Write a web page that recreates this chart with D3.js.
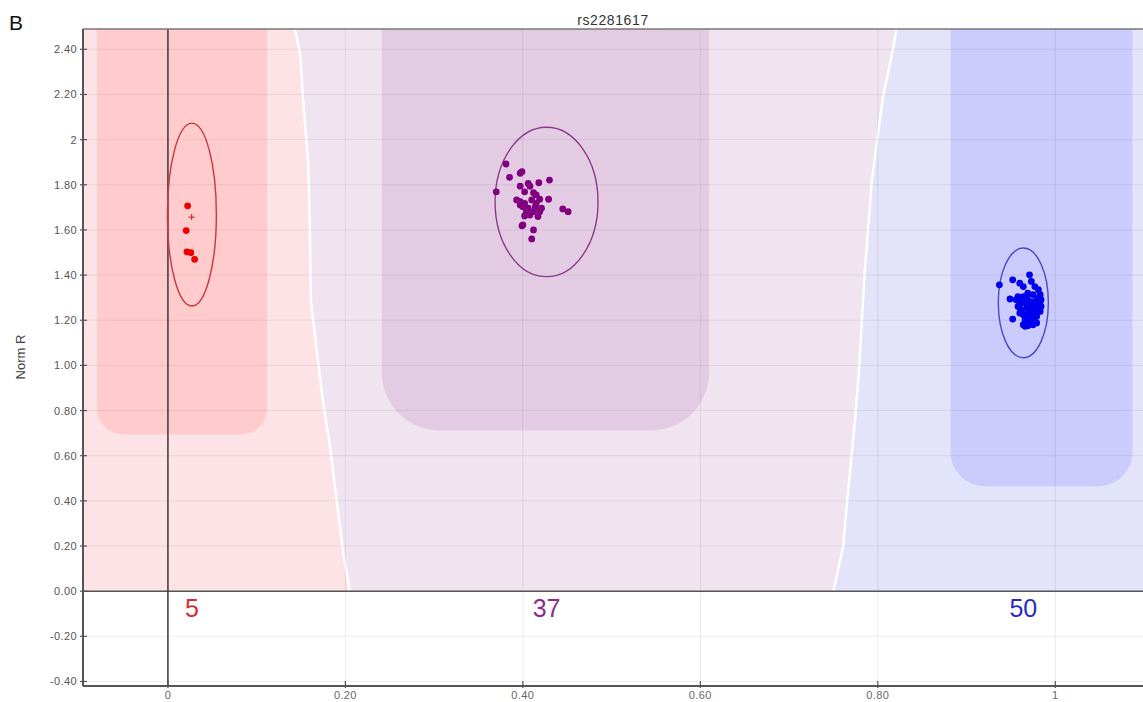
<!DOCTYPE html>
<html>
<head>
<meta charset="utf-8">
<script src="https://cdn.jsdelivr.net/npm/d3@7"></script>
<style>
  body { margin: 0; background: #fff; }
  svg { display: block; font-family: "Liberation Sans", Arial, sans-serif; }
</style>
</head>
<body>
<div id="chart"></div>
<script>
// genotype cluster plot
const title = "rs2281617";
const yTicks = [2.4, 2.2, 2, 1.8, 1.6, 1.4, 1.2, 1.0, 0.8, 0.6, 0.4, 0.2, 0, -0.2, -0.4];
const yTickLabels = ["2.40", "2.20", "2", "1.80", "1.60", "1.40", "1.20", "1.00", "0.80", "0.60", "0.40", "0.20", "0.00", "-0.20", "-0.40"];
const xTicks = [0, 0.2, 0.4, 0.6, 0.8, 1];
const xTickLabels = ["0", "0.20", "0.40", "0.60", "0.80", "1"];

const clusterNames = ["AA", "AB", "BB"];
const clusterCounts = [5, 37, 50];

// zone boundaries (x, normR), top to bottom
const boundaryAB = [[0.143, 2.49], [0.149, 2.382], [0.152, 2.188], [0.158, 1.909], [0.160, 1.60],
  [0.161, 1.291], [0.168, 1.056], [0.174, 0.862], [0.183, 0.628], [0.190, 0.407], [0.197, 0.186], [0.205, 0]];
const boundaryBB = [[0.821, 2.49], [0.817, 2.396], [0.806, 2.192], [0.799, 1.989], [0.793, 1.803],
  [0.789, 1.600], [0.785, 1.397], [0.782, 1.193], [0.779, 0.990], [0.775, 0.787], [0.770, 0.583],
  [0.765, 0.380], [0.761, 0.199], [0.750, 0]];

// cluster boxes: [x0, x1, bottom]
const clusterBoxes = [[-0.080, 0.112, 0.695], [0.241, 0.610, 0.712], [0.882, 1.087, 0.465]];
// cluster ellipses: [cx, cy, rx, ry]
const clusterEllipses = [[0.027, 1.668, 0.0276, 0.405], [0.4267, 1.724, 0.058, 0.331], [0.964, 1.277, 0.0282, 0.243]];
const aaMean = [0.0267, 1.657];

const aaPoints = [[0.0222, 1.707], [0.0206, 1.597], [0.0214, 1.503], [0.0259, 1.499], [0.0301, 1.470]];
const abPoints = [[0.381, 1.892], [0.385, 1.833], [0.397, 1.851], [0.399, 1.858], [0.370, 1.769],
  [0.397, 1.794], [0.406, 1.806], [0.408, 1.794], [0.418, 1.809], [0.430, 1.821], [0.402, 1.769],
  [0.412, 1.765], [0.415, 1.755], [0.393, 1.733], [0.397, 1.725], [0.402, 1.718], [0.410, 1.733],
  [0.419, 1.736], [0.429, 1.736], [0.400, 1.703], [0.406, 1.696], [0.414, 1.703], [0.421, 1.696],
  [0.404, 1.681], [0.412, 1.681], [0.419, 1.681], [0.402, 1.662], [0.408, 1.666], [0.417, 1.659],
  [0.400, 1.622], [0.399, 1.618], [0.412, 1.600], [0.410, 1.560], [0.445, 1.693], [0.451, 1.681],
  [0.397, 1.711], [0.415, 1.718]];
const bbPoints = [[0.937, 1.357], [0.952, 1.379], [0.971, 1.401], [0.973, 1.372], [0.960, 1.364],
  [0.964, 1.349], [0.977, 1.349], [0.981, 1.335], [0.949, 1.294], [0.956, 1.291], [0.964, 1.305],
  [0.969, 1.320], [0.975, 1.313], [0.983, 1.313], [0.984, 1.291], [0.960, 1.268], [0.966, 1.276],
  [0.971, 1.283], [0.977, 1.283], [0.981, 1.268], [0.984, 1.261], [0.962, 1.246], [0.968, 1.254],
  [0.973, 1.261], [0.979, 1.246], [0.983, 1.239], [0.952, 1.205], [0.964, 1.224], [0.969, 1.232],
  [0.975, 1.224], [0.979, 1.217], [0.966, 1.202], [0.971, 1.195], [0.975, 1.202], [0.964, 1.180],
  [0.969, 1.176], [0.979, 1.188], [0.958, 1.305], [0.968, 1.298], [0.962, 1.283], [0.973, 1.239],
  [0.977, 1.261], [0.981, 1.298], [0.971, 1.217], [0.968, 1.214], [0.960, 1.232], [0.966, 1.173],
  [0.983, 1.283], [0.975, 1.180], [0.958, 1.261]];

const width = 1143, height = 702;
const xMin = -0.0957, xMax = 1.1, yMin = -0.42, yMax = 2.49;
const zoneColors = ["#fde3e5", "#f0e4f0", "#e3e3fa"];
const boxColors = ["#ffcbcc", "#e3cce3", "#cbcbfd"];
const ellipseColors = ["#c8383c", "#8a3a8a", "#4848cc"];
const pointColors = ["#ee0000", "#800080", "#0000ee"];
const countColors = ["#d92a32", "#8b2c8b", "#2b2bc8"];
const cornerRadius = [26, 58, 34];

const svg = d3.select("#chart").append("svg")
  .attr("width", width)
  .attr("height", height);

const x = d3.scaleLinear().domain([xMin, xMax]).range([83, 1144]);
const y = d3.scaleLinear().domain([yMin, yMax]).range([686, 29]);

svg.append("clipPath").attr("id", "plot-clip")
  .append("rect")
  .attr("x", x(xMin)).attr("y", y(yMax))
  .attr("width", x(xMax) - x(xMin)).attr("height", y(yMin) - y(yMax));

const plot = svg.append("g").attr("clip-path", "url(#plot-clip)");
const line = d3.line().x(d => x(d[0])).y(d => y(d[1]));

// background zones (only above 0)
const zonePolys = [
  [[xMin, yMax]].concat(boundaryAB, [[xMin, 0]]),
  boundaryAB.concat(boundaryBB.slice().reverse()),
  [[xMax, yMax]].concat(boundaryBB, [[xMax, 0]])
];
zonePolys.forEach((poly, i) => {
  plot.append("path")
    .attr("d", line(poly) + "Z")
    .attr("fill", zoneColors[i]);
});

// cluster boxes with rounded bottom corners
clusterBoxes.forEach((b, i) => {
  const x0 = x(b[0]), x1 = x(b[1]), yb = y(b[2]), top = y(yMax) - 2, r = cornerRadius[i];
  plot.append("path")
    .attr("d", `M${x0},${top}L${x0},${yb - r}A${r},${r} 0 0 0 ${x0 + r},${yb}` +
      `L${x1 - r},${yb}A${r},${r} 0 0 0 ${x1},${yb - r}L${x1},${top}Z`)
    .attr("fill", boxColors[i]);
});

// white zone separators
[boundaryAB, boundaryBB].forEach(bd => {
  plot.append("path")
    .attr("d", line(bd))
    .attr("fill", "none")
    .attr("stroke", "#fff")
    .attr("stroke-width", 2.5);
});

// grid
plot.append("g").selectAll("line")
  .data(yTicks)
  .enter().append("line")
  .attr("x1", x(xMin)).attr("x2", x(xMax))
  .attr("y1", d => y(d)).attr("y2", d => y(d))
  .attr("stroke", "#000").attr("stroke-opacity", 0.07);
plot.append("g").selectAll("line")
  .data(xTicks)
  .enter().append("line")
  .attr("y1", y(yMin)).attr("y2", y(yMax))
  .attr("x1", d => x(d)).attr("x2", d => x(d))
  .attr("stroke", "#000").attr("stroke-opacity", 0.08);

// zero lines
plot.append("line")
  .attr("x1", x(xMin)).attr("x2", x(xMax))
  .attr("y1", y(0)).attr("y2", y(0))
  .attr("stroke", "#555").attr("stroke-width", 1.6);
plot.append("line")
  .attr("x1", x(0)).attr("x2", x(0))
  .attr("y1", y(yMin)).attr("y2", y(yMax))
  .attr("stroke", "#3a3a3a").attr("stroke-width", 1.5);

// ellipses
clusterEllipses.forEach((e, i) => {
  plot.append("ellipse")
    .attr("cx", x(e[0])).attr("cy", y(e[1]))
    .attr("rx", x(e[0] + e[2]) - x(e[0]))
    .attr("ry", y(e[1]) - y(e[1] + e[3]))
    .attr("fill", "none")
    .attr("stroke", ellipseColors[i])
    .attr("stroke-width", 1.4);
});

// points
[aaPoints, abPoints, bbPoints].forEach((pts, i) => {
  plot.append("g").selectAll("circle")
    .data(pts)
    .enter().append("circle")
    .attr("cx", d => x(d[0]))
    .attr("cy", d => y(d[1]))
    .attr("r", 3.4)
    .attr("fill", pointColors[i]);
});

// mean marker of AA cluster
plot.append("path")
  .attr("d", `M${x(aaMean[0]) - 3},${y(aaMean[1])}h6M${x(aaMean[0])},${y(aaMean[1]) - 3}v6`)
  .attr("stroke", "#e03030").attr("stroke-width", 1.2);

// counts
clusterEllipses.forEach((e, i) => {
  svg.append("text")
    .attr("x", x(e[0]))
    .attr("y", y(0) + 26)
    .attr("text-anchor", "middle")
    .attr("font-size", 25)
    .attr("fill", countColors[i])
    .text(clusterCounts[i]);
});

// frame
svg.append("line")
  .attr("x1", x(xMin)).attr("x2", width)
  .attr("y1", y(yMax)).attr("y2", y(yMax))
  .attr("stroke", "#777").attr("stroke-width", 1.5);
svg.append("line")
  .attr("x1", x(xMin)).attr("x2", x(xMin))
  .attr("y1", y(yMax)).attr("y2", y(yMin))
  .attr("stroke", "#555").attr("stroke-width", 2);
svg.append("line")
  .attr("x1", x(xMin)).attr("x2", width)
  .attr("y1", y(yMin)).attr("y2", y(yMin))
  .attr("stroke", "#555").attr("stroke-width", 2);

// axis ticks and labels
yTicks.forEach((t, i) => {
  svg.append("line")
    .attr("x1", x(xMin) - 3).attr("x2", x(xMin) + 4)
    .attr("y1", y(t)).attr("y2", y(t))
    .attr("stroke", "#555").attr("stroke-width", 1.2);
  svg.append("text")
    .attr("x", x(xMin) - 6)
    .attr("y", y(t) + 4)
    .attr("text-anchor", "end")
    .attr("font-size", 11)
    .attr("letter-spacing", 0.4)
    .attr("fill", "#555")
    .text(yTickLabels[i]);
});
xTicks.forEach((t, i) => {
  svg.append("line")
    .attr("x1", x(t)).attr("x2", x(t))
    .attr("y1", y(yMin) - 5).attr("y2", y(yMin) + 2)
    .attr("stroke", "#555").attr("stroke-width", 1.2);
  svg.append("text")
    .attr("x", x(t))
    .attr("y", y(yMin) + 13)
    .attr("text-anchor", "middle")
    .attr("font-size", 11)
    .attr("letter-spacing", 0.4)
    .attr("fill", "#666")
    .text(xTickLabels[i]);
});

// titles
svg.append("text")
  .attr("x", 613).attr("y", 25)
  .attr("text-anchor", "middle")
  .attr("font-size", 14)
  .attr("letter-spacing", 0.6)
  .attr("fill", "#333")
  .text(title);
svg.append("text")
  .attr("transform", "translate(25,357) rotate(-90)")
  .attr("text-anchor", "middle")
  .attr("font-size", 13)
  .attr("fill", "#444")
  .text("Norm R");
svg.append("text")
  .attr("x", 9).attr("y", 30)
  .attr("font-size", 21)
  .attr("fill", "#111")
  .text("B");
</script>
</body>
</html>
